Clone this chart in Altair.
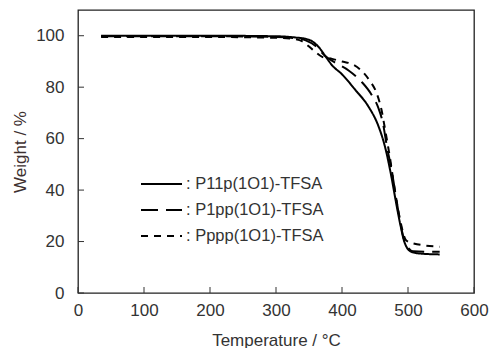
import altair as alt
import pandas as pd

names = ["P11p(1O1)-TFSA", "P1pp(1O1)-TFSA", "Pppp(1O1)-TFSA"]

t_p11p = [35, 100, 200, 300, 330, 345, 355, 365, 375, 385, 400, 420, 440, 455, 465, 475, 482, 488, 495, 505, 520, 548]
w_p11p = [100, 100, 100, 99.8, 99.3, 98.8, 97.8, 95.5, 92, 88.5, 85, 79, 72.5, 65, 57, 45, 35, 27, 19.5, 16, 15.3, 15]

t_p1pp = [35, 100, 200, 300, 330, 345, 360, 375, 390, 410, 430, 445, 455, 462, 468, 475, 482, 488, 495, 508, 548]
w_p1pp = [99.8, 99.8, 99.8, 99.5, 99, 98.2, 96, 92, 89.5, 86.5, 82, 77, 72, 66, 57, 48, 37, 28, 20, 16.2, 16]

t_pppp = [35, 100, 200, 300, 325, 340, 355, 370, 385, 400, 415, 427, 442, 452, 460, 465, 473, 480, 488, 497, 508, 548]
w_pppp = [99.5, 99.5, 99.5, 99.2, 98.8, 97.8, 94.7, 91.8, 91, 90, 89, 87, 82.5, 78, 71, 64, 52, 40, 28.5, 20.5, 19.3, 18]

x_ticks = [0, 100, 200, 300, 400, 500, 600]
y_ticks = [0, 20, 40, 60, 80, 100]

rows = []
for name, ts, ws in zip(names, [t_p11p, t_p1pp, t_pppp], [w_p11p, w_p1pp, w_pppp]):
    for i, (t, w) in enumerate(zip(ts, ws)):
        rows.append({"series": name, "T": t, "W": w, "order": i})
df = pd.DataFrame(rows)
leg_df = pd.DataFrame({"series": names, "label": [": " + n for n in names]})

xscale = alt.Scale(domain=[0, 600], nice=False, zero=False)
yscale = alt.Scale(domain=[0, 110], nice=False)
dash_scale = alt.Scale(domain=names, range=[[1, 0], [17, 8], [7, 6]])
row_scale = alt.Scale(type="point", domain=names, range=[174, 226], padding=0)

FONT = "Liberation Sans"
TXT = "#333333"

xaxis = alt.Axis(title="Temperature / °C", values=x_ticks, grid=False, ticks=False, domain=False,
                 labelFontSize=17, titleFontSize=17, labelFont=FONT, titleFont=FONT,
                 labelColor=TXT, titleColor=TXT, titleFontWeight="normal",
                 labelPadding=9, titlePadding=14, labelFlush=False)
yaxis = alt.Axis(title="Weight / %", values=y_ticks, grid=False, ticks=False, domain=False,
                 labelFontSize=17, titleFontSize=17, labelFont=FONT, titleFont=FONT,
                 labelColor=TXT, titleColor="#3d3030", titleFontWeight="normal",
                 labelPadding=14, titlePadding=6)

lines = alt.Chart(df).mark_line(color="black", strokeWidth=2, interpolate="monotone").encode(
    x=alt.X("T:Q", scale=xscale, axis=xaxis),
    y=alt.Y("W:Q", scale=yscale, axis=yaxis),
    strokeDash=alt.StrokeDash("series:N", scale=dash_scale, legend=None),
    detail="series:N",
    order="order:Q",
)

xt = alt.Chart(pd.DataFrame({"T": x_ticks})).mark_rule(color="#333333", strokeWidth=1).encode(
    x=alt.X("T:Q", scale=xscale, axis=xaxis),
    y=alt.value(283), y2=alt.value(277),
)
yt = alt.Chart(pd.DataFrame({"W": y_ticks})).mark_rule(color="#333333", strokeWidth=1).encode(
    y=alt.Y("W:Q", scale=yscale, axis=yaxis),
    x=alt.value(0), x2=alt.value(6),
)

plot = alt.layer(lines, xt, yt)

leg_lines = alt.Chart(leg_df).mark_rule(color="black", strokeWidth=2).encode(
    y=alt.Y("series:N", scale=row_scale, axis=None),
    x=alt.value(63), x2=alt.value(104),
    strokeDash=alt.StrokeDash("series:N", scale=dash_scale, legend=None),
)
leg_text = alt.Chart(leg_df).mark_text(align="left", baseline="middle", fontSize=16.5,
                                       font=FONT, color=TXT).encode(
    y=alt.Y("series:N", scale=row_scale, axis=None),
    x=alt.value(108),
    text="label:N",
)
legend = alt.layer(leg_lines, leg_text)

chart = alt.layer(plot, legend).resolve_scale(y="independent").properties(
    width=396, height=283,
    autosize=alt.AutoSizeParams(type="none"),
    padding={"left": 78, "top": 10, "right": 17, "bottom": 55},
    background="white",
).configure_view(stroke="#222222", strokeWidth=1.3)

chart.save("out.html", embed_options={"renderer": "svg", "actions": False})
